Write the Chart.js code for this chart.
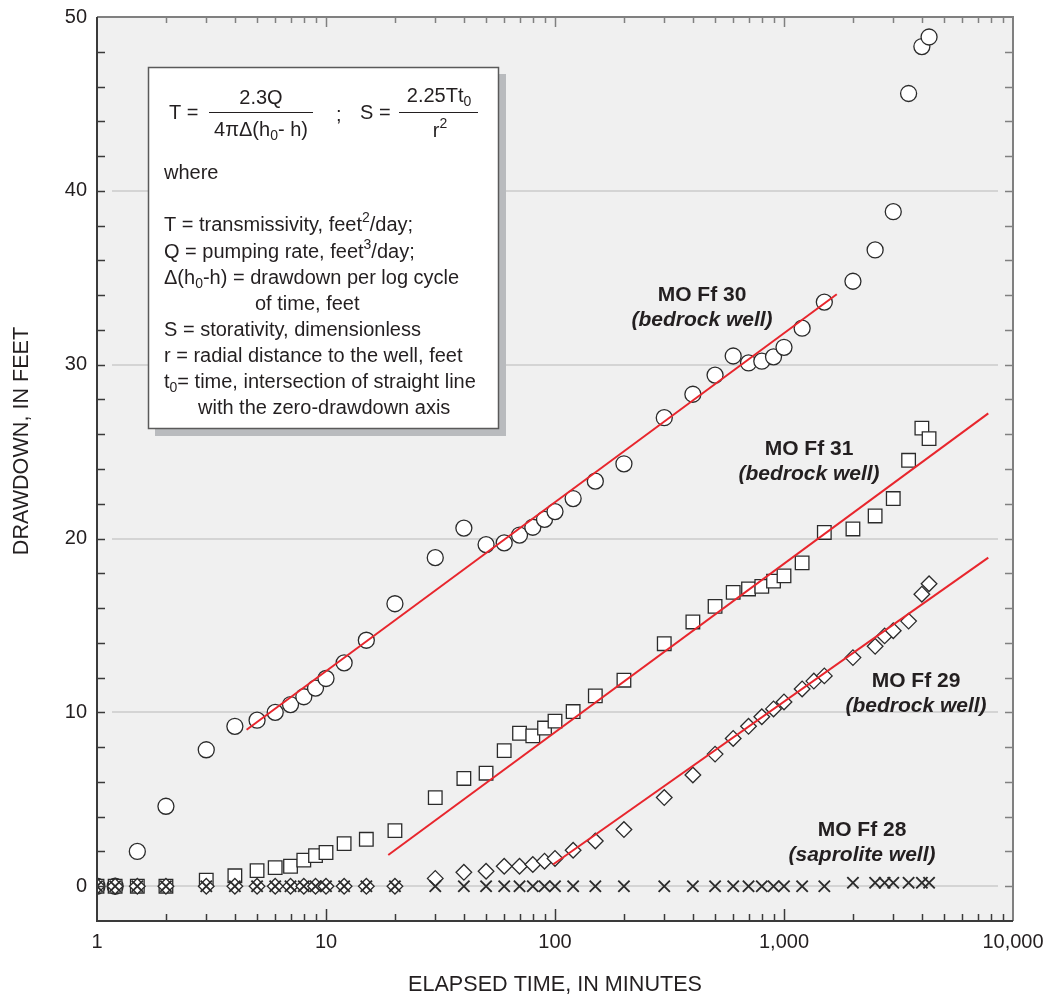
<!DOCTYPE html>
<html>
<head>
<meta charset="utf-8">
<title>Drawdown vs elapsed time</title>
<script src="https://cdn.jsdelivr.net/npm/chart.js@4.4.0/dist/chart.umd.min.js"></script>
<style>
  html, body { margin: 0; padding: 0; background: #fff; }
</style>
</head>
<body>
<canvas id="chart" width="1046" height="998"></canvas>
<script>
// elapsed time (minutes) and drawdown (feet)
const timesFf30 = [1, 1.2, 1.5, 2, 3, 4, 5, 6, 7, 8, 9, 10, 12, 15, 20, 30, 40, 50, 60, 70, 80, 90, 100,
  120, 150, 200, 300, 400, 500, 600, 700, 800, 900, 1000, 1200, 1500, 2000, 2500, 3000, 3500, 4000, 4300];
const drawdownFf30 = [0, 0, 2.0, 4.6, 7.85, 9.2, 9.55, 10.0, 10.45, 10.9, 11.4, 11.95, 12.85, 14.15, 16.25,
  18.9, 20.6, 19.65, 19.75, 20.2, 20.65, 21.1, 21.55, 22.3, 23.3, 24.3, 26.95, 28.3, 29.4, 30.5, 30.1,
  30.2, 30.45, 31.0, 32.1, 33.6, 34.8, 36.6, 38.8, 45.6, 48.3, 48.85];

const timesFf31 = timesFf30;
const drawdownFf31 = [0, 0, 0, 0, 0.35, 0.6, 0.9, 1.07, 1.15, 1.5, 1.76, 1.94, 2.45, 2.7, 3.2,
  5.1, 6.2, 6.5, 7.8, 8.8, 8.65, 9.1, 9.5, 10.05, 10.95, 11.85, 13.95, 15.2, 16.1, 16.9, 17.1,
  17.25, 17.55, 17.85, 18.6, 20.35, 20.55, 21.3, 22.3, 24.5, 26.35, 25.75];

const timesFf29 = [1, 1.2, 1.5, 2, 3, 4, 5, 6, 7, 8, 9, 10, 12, 15, 20, 30, 40, 50, 60, 70, 80, 90, 100,
  120, 150, 200, 300, 400, 500, 600, 700, 800, 900, 1000, 1200, 1350, 1500, 2000, 2500, 2750, 3000, 3500, 4000, 4300];
const drawdownFf29 = [0, 0, 0, 0, 0, 0, 0, 0, 0, 0, 0, 0, 0, 0, 0,
  0.45, 0.8, 0.86, 1.15, 1.15, 1.25, 1.44, 1.6, 2.07, 2.6, 3.26, 5.1, 6.4, 7.6, 8.5, 9.2,
  9.75, 10.2, 10.6, 11.35, 11.8, 12.1, 13.15, 13.8, 14.4, 14.7, 15.25, 16.8, 17.4];

const timesFf28 = [1, 1.2, 1.5, 2, 3, 4, 5, 6, 7, 8, 9, 10, 12, 15, 20, 30, 40, 50, 60, 70, 80, 90, 100,
  120, 150, 200, 300, 400, 500, 600, 700, 800, 900, 1000, 1200, 1500, 2000, 2500, 2750, 3000, 3500, 4000, 4300];
const drawdownFf28 = [0, 0, 0, 0, 0, 0, 0, 0, 0, 0, 0, 0, 0, 0, 0, 0, 0, 0, 0, 0, 0, 0, 0,
  0, 0, 0, 0, 0, 0, 0, 0, 0, 0, 0, 0, 0, 0.2, 0.2, 0.2, 0.2, 0.2, 0.2, 0.2];

// straight-line fits (end points)
const fitFf30 = [[4.5, 9.0], [1700, 34.05]];
const fitFf31 = [[18.7, 1.8], [7800, 27.2]];
const fitFf29 = [[98, 1.25], [7800, 18.9]];

// axes
const xDecades = [1, 10, 100, 1000, 10000];
const xMinorSteps = [1, 2, 3, 4, 5, 6, 7, 8, 9];
const yTickValues = [0, 2, 4, 6, 8, 10, 12, 14, 16, 18, 20, 22, 24, 26, 28, 30, 32, 34, 36, 38, 40, 42, 44, 46, 48, 50];
const yLabelValues = [0, 10, 20, 30, 40, 50];
const gridValues = [0, 10, 20, 30, 40];

const xTickValues = [];
xDecades.slice(0, -1).forEach(d => xMinorSteps.forEach(k => xTickValues.push(k * d)));
xTickValues.push(10000);

const FONT = '"Liberation Sans", Arial, Helvetica, sans-serif';
const INK = '#231f20';

const pts = (xs, ys) => xs.map((x, i) => ({ x: x, y: ys[i] }));
const line = p => p.map(q => ({ x: q[0], y: q[1] }));

// draws a row of text pieces, some of them sub/superscript
function drawRuns(ctx, x, y, runs, size, align) {
  const small = Math.round(size * 0.68);
  const w = runs.map(r => {
    ctx.font = (r.sub || r.sup ? small : size) + 'px ' + FONT;
    return ctx.measureText(r.t).width;
  });
  const total = w.reduce((a, b) => a + b, 0);
  let cx = align === 'center' ? x - total / 2 : x;
  ctx.textAlign = 'left';
  ctx.textBaseline = 'middle';
  runs.forEach((r, i) => {
    ctx.font = (r.sub || r.sup ? small : size) + 'px ' + FONT;
    const dy = r.sub ? size * 0.3 : (r.sup ? -size * 0.35 : 0);
    ctx.fillText(r.t, cx, y + dy);
    cx += w[i];
  });
}

const framePlugin = {
  id: 'frame',
  beforeDraw(chart) {
    const { ctx, chartArea: a } = chart;
    ctx.save();
    ctx.fillStyle = '#f0f0f0';
    ctx.fillRect(a.left, a.top, a.right - a.left, a.bottom - a.top);
    ctx.restore();
  },
  beforeDatasetsDraw(chart) {
    const { ctx, chartArea: a, scales } = chart;
    ctx.save();
    ctx.strokeStyle = '#d4d4d4';
    ctx.lineWidth = 2;
    gridValues.forEach(v => {
      const py = Math.round(scales.y.getPixelForValue(v));
      ctx.beginPath();
      ctx.moveTo(a.left + 15, py);
      ctx.lineTo(a.right - 15, py);
      ctx.stroke();
    });
    ctx.restore();
  },
  afterDatasetsDraw(chart) {
    const { ctx, chartArea: a, scales } = chart;
    ctx.save();

    // inward ticks
    ctx.lineWidth = 1.5;
    xTickValues.forEach(v => {
      if (v === 1 || v === 10000) return;
      const px = Math.round(scales.x.getPixelForValue(v)) + 0.5;
      const major = xDecades.includes(v);
      ctx.strokeStyle = '#3a3a3a';
      ctx.beginPath();
      ctx.moveTo(px, a.bottom);
      ctx.lineTo(px, a.bottom - (major ? 12 : 7));
      ctx.stroke();
      ctx.strokeStyle = '#808080';
      ctx.beginPath();
      ctx.moveTo(px, a.top);
      ctx.lineTo(px, a.top + (major ? 10 : 6));
      ctx.stroke();
    });
    yTickValues.forEach(v => {
      if (v === 50) return;
      const py = Math.round(scales.y.getPixelForValue(v)) + 0.5;
      ctx.strokeStyle = '#3a3a3a';
      ctx.beginPath();
      ctx.moveTo(a.left, py);
      ctx.lineTo(a.left + 8, py);
      ctx.stroke();
      ctx.strokeStyle = '#808080';
      ctx.beginPath();
      ctx.moveTo(a.right, py);
      ctx.lineTo(a.right - 8, py);
      ctx.stroke();
    });

    // frame
    ctx.lineWidth = 2;
    ctx.strokeStyle = '#808080';
    ctx.beginPath();
    ctx.moveTo(a.left, a.top);
    ctx.lineTo(a.right, a.top);
    ctx.lineTo(a.right, a.bottom);
    ctx.stroke();
    ctx.strokeStyle = '#3a3a3a';
    ctx.beginPath();
    ctx.moveTo(a.left, a.top);
    ctx.lineTo(a.left, a.bottom);
    ctx.lineTo(a.right, a.bottom);
    ctx.stroke();

    // explanation box
    ctx.fillStyle = '#b9bbbe';
    ctx.fillRect(155, 74, 351, 362);
    ctx.fillStyle = '#ffffff';
    ctx.fillRect(148, 67, 351, 362);
    ctx.strokeStyle = '#5a5a5a';
    ctx.lineWidth = 1.5;
    ctx.strokeRect(148.5, 67.5, 350, 361);

    ctx.fillStyle = INK;
    ctx.strokeStyle = INK;
    ctx.lineWidth = 1.2;
    drawRuns(ctx, 169, 113, [{ t: 'T =' }], 20, 'left');
    drawRuns(ctx, 261, 98, [{ t: '2.3Q' }], 20, 'center');
    ctx.beginPath(); ctx.moveTo(209, 112.5); ctx.lineTo(313, 112.5); ctx.stroke();
    drawRuns(ctx, 261, 130, [{ t: '4\u03c0\u0394(h' }, { t: '0', sub: true }, { t: '- h)' }], 20, 'center');
    drawRuns(ctx, 336, 115, [{ t: ';' }], 20, 'left');
    drawRuns(ctx, 360, 113, [{ t: 'S =' }], 20, 'left');
    drawRuns(ctx, 439, 96, [{ t: '2.25Tt' }, { t: '0', sub: true }], 20, 'center');
    ctx.beginPath(); ctx.moveTo(399, 112.5); ctx.lineTo(478, 112.5); ctx.stroke();
    drawRuns(ctx, 440, 131, [{ t: 'r' }, { t: '2', sup: true }], 20, 'center');

    drawRuns(ctx, 164, 173, [{ t: 'where' }], 20, 'left');
    drawRuns(ctx, 164, 225, [{ t: 'T = transmissivity, feet' }, { t: '2', sup: true }, { t: '/day;' }], 20, 'left');
    drawRuns(ctx, 164, 252, [{ t: 'Q = pumping rate, feet' }, { t: '3', sup: true }, { t: '/day;' }], 20, 'left');
    drawRuns(ctx, 164, 278, [{ t: '\u0394(h' }, { t: '0', sub: true }, { t: '-h) = drawdown per log cycle' }], 20, 'left');
    drawRuns(ctx, 255, 304, [{ t: 'of time, feet' }], 20, 'left');
    drawRuns(ctx, 164, 330, [{ t: 'S = storativity, dimensionless' }], 20, 'left');
    drawRuns(ctx, 164, 356, [{ t: 'r = radial distance to the well, feet' }], 20, 'left');
    drawRuns(ctx, 164, 382, [{ t: 't' }, { t: '0', sub: true }, { t: '= time, intersection of straight line' }], 20, 'left');
    drawRuns(ctx, 198, 408, [{ t: 'with the zero-drawdown axis' }], 20, 'left');

    // well labels
    const wells = [
      ['MO Ff 30', '(bedrock well)', 702, 295],
      ['MO Ff 31', '(bedrock well)', 809, 449],
      ['MO Ff 29', '(bedrock well)', 916, 681],
      ['MO Ff 28', '(saprolite well)', 862, 830]
    ];
    ctx.textAlign = 'center';
    ctx.textBaseline = 'middle';
    wells.forEach(w => {
      ctx.font = 'bold 21px ' + FONT;
      ctx.fillText(w[0], w[2], w[3]);
      ctx.font = 'italic bold 21px ' + FONT;
      ctx.fillText(w[1], w[2], w[3] + 25);
    });

    // axis titles
    ctx.font = '21.6px ' + FONT;
    ctx.fillText('ELAPSED TIME, IN MINUTES', (a.left + a.right) / 2, 985);
    ctx.translate(22, 441);
    ctx.rotate(-Math.PI / 2);
    ctx.fillText('DRAWDOWN, IN FEET', 0, 0);
    ctx.restore();
  }
};

const markerColor = '#2b2b2b';
const fitColor = '#e8262d';

new Chart(document.getElementById('chart'), {
  type: 'scatter',
  data: {
    datasets: [
      { label: 'fit 30', data: line(fitFf30), showLine: true, borderColor: fitColor, borderWidth: 2, pointRadius: 0, order: 0 },
      { label: 'fit 31', data: line(fitFf31), showLine: true, borderColor: fitColor, borderWidth: 2, pointRadius: 0, order: 0 },
      { label: 'fit 29', data: line(fitFf29), showLine: true, borderColor: fitColor, borderWidth: 2, pointRadius: 0, order: 0 },
      { label: 'MO Ff 28', data: pts(timesFf28, drawdownFf28), pointStyle: 'crossRot', pointRadius: 8,
        borderColor: markerColor, borderWidth: 1.9, order: 1 },
      { label: 'MO Ff 29', data: pts(timesFf29, drawdownFf29), pointStyle: 'rectRot', pointRadius: 7.8,
        backgroundColor: '#ffffff', borderColor: markerColor, borderWidth: 1.3, order: 2 },
      { label: 'MO Ff 31', data: pts(timesFf31, drawdownFf31), pointStyle: 'rect', pointRadius: 9.6,
        backgroundColor: '#ffffff', borderColor: markerColor, borderWidth: 1.3, order: 3 },
      { label: 'MO Ff 30', data: pts(timesFf30, drawdownFf30), pointStyle: 'circle', pointRadius: 8,
        backgroundColor: '#ffffff', borderColor: markerColor, borderWidth: 1.3, order: 4 }
    ]
  },
  options: {
    responsive: false,
    devicePixelRatio: 1,
    animation: false,
    events: [],
    layout: { padding: { top: 17, right: 33, left: 0, bottom: 0 } },
    plugins: { legend: { display: false }, tooltip: { enabled: false } },
    scales: {
      x: {
        type: 'logarithmic',
        min: 1,
        max: 10000,
        afterBuildTicks: s => { s.ticks = xTickValues.map(v => ({ value: v })); },
        afterFit: s => { s.height = 77; s.paddingLeft = 0; s.paddingRight = 0; },
        grid: { display: false, drawTicks: false },
        border: { display: false },
        ticks: {
          autoSkip: false,
          maxRotation: 0,
          padding: 9,
          color: INK,
          font: { family: FONT, size: 20 },
          callback: v => xDecades.includes(v) ? v.toLocaleString('en-US') : ''
        }
      },
      y: {
        min: -2,
        max: 50,
        afterBuildTicks: s => { s.ticks = yTickValues.map(v => ({ value: v })); },
        afterFit: s => { s.width = 97; s.paddingTop = 0; s.paddingBottom = 0; },
        grid: { display: false, drawTicks: false },
        border: { display: false },
        ticks: {
          autoSkip: false,
          padding: 10,
          color: INK,
          font: { family: FONT, size: 20 },
          callback: v => yLabelValues.includes(v) ? String(v) : ''
        }
      }
    }
  },
  plugins: [framePlugin]
});
</script>
</body>
</html>
